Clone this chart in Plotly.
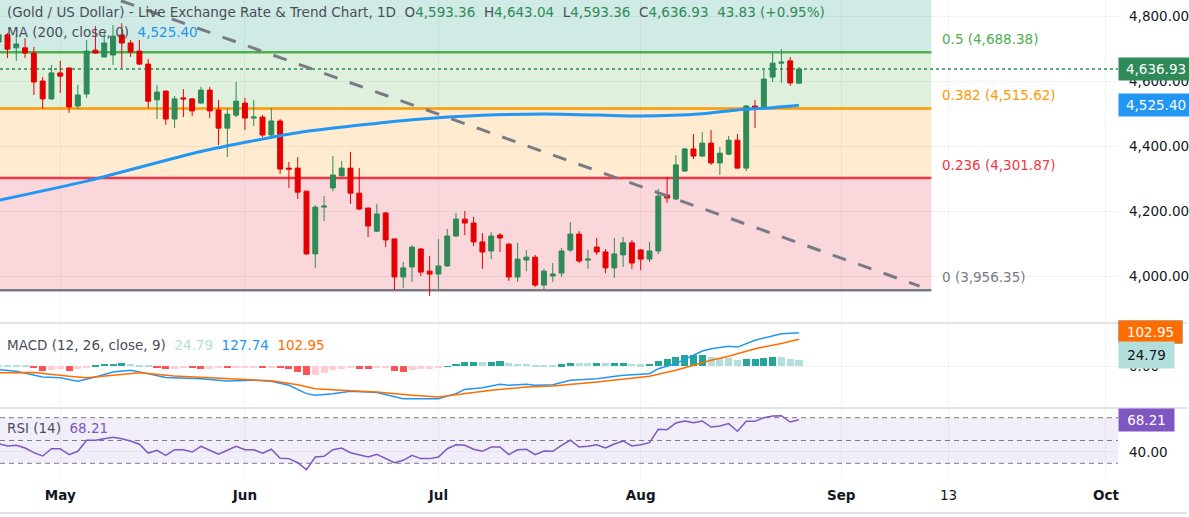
import plotly.graph_objects as go

# one bar per trading day; index 0 is the first complete candle on the left
bar_idx = list(range(-1, 91))

opens = [4720, 4742, 4702, 4702, 4686, 4600, 4545, 4625, 4640, 4523,
         4560, 4695, 4674, 4680, 4742, 4717, 4692, 4652, 4542, 4569,
         4483, 4548, 4545, 4532, 4572, 4511, 4455, 4495, 4532, 4486,
         4489, 4434, 4477, 4332, 4332, 4261, 4068, 4212, 4271, 4308,
         4332, 4255, 4209, 4138, 4194, 4114, 3997, 4028, 4083, 4015,
         4006, 4031, 4123, 4175, 4163, 4105, 4077, 4126, 4098, 3997,
         4049, 4058, 3972, 4000, 4009, 4080, 4129, 4049, 4089, 4074,
         4025, 4065, 4102, 4080, 4052, 4077, 4249, 4237, 4323, 4391,
         4369, 4409, 4348, 4375, 4418, 4332, 4523, 4517, 4612, 4655,
         4662, 4593.36]
highs = [4757, 4748, 4742, 4732, 4705, 4612, 4649, 4662, 4641, 4588,
         4726, 4769, 4748, 4772, 4778, 4726, 4726, 4668, 4588, 4570,
         4554, 4575, 4548, 4582, 4582, 4542, 4517, 4597, 4548, 4542,
         4495, 4517, 4483, 4351, 4366, 4262, 4218, 4246, 4369, 4354,
         4382, 4332, 4211, 4222, 4197, 4115, 4043, 4095, 4086, 4062,
         4114, 4145, 4194, 4200, 4182, 4132, 4135, 4132, 4102, 4102,
         4080, 4065, 4022, 4040, 4086, 4166, 4138, 4080, 4117, 4083,
         4117, 4120, 4111, 4083, 4105, 4268, 4305, 4372, 4394, 4437,
         4443, 4449, 4397, 4431, 4437, 4526, 4542, 4634, 4686, 4698,
         4674, 4643.04]
lows = [4711, 4671, 4662, 4671, 4557, 4514, 4542, 4563, 4502, 4514,
        4548, 4685, 4673, 4649, 4640, 4674, 4649, 4517, 4483, 4465,
        4455, 4489, 4492, 4531, 4486, 4403, 4366, 4489, 4449, 4462,
        4428, 4428, 4314, 4271, 4237, 4065, 4025, 4169, 4261, 4306,
        4222, 4203, 4120, 4135, 4089, 3957, 3963, 3982, 4000, 3938,
        3960, 4028, 4120, 4126, 4092, 4022, 4052, 4074, 3985, 3982,
        4015, 3966, 3957, 3982, 3997, 4074, 4040, 4022, 4065, 4009,
        3994, 4028, 4022, 4018, 4043, 4068, 4225, 4234, 4320, 4360,
        4366, 4342, 4311, 4372, 4330, 4323, 4455, 4514, 4597, 4594,
        4585, 4593.36]
closes = [4742, 4698, 4714, 4686, 4597, 4545, 4625, 4615, 4520, 4557,
          4692, 4686, 4717, 4738, 4717, 4689, 4652, 4538, 4566, 4483,
          4545, 4545, 4508, 4572, 4508, 4455, 4498, 4538, 4486, 4489,
          4434, 4477, 4329, 4329, 4258, 4068, 4212, 4215, 4311, 4332,
          4255, 4206, 4154, 4191, 4111, 3997, 4025, 4089, 4012, 4006,
          4031, 4123, 4175, 4163, 4105, 4074, 4123, 4117, 3997, 4052,
          4058, 3972, 4015, 4006, 4077, 4129, 4046, 4052, 4074, 4025,
          4068, 4102, 4040, 4052, 4077, 4246, 4240, 4342, 4391, 4369,
          4409, 4348, 4378, 4418, 4332, 4523, 4517, 4606, 4655, 4658,
          4594, 4636.93]
day_change = 43.83
day_change_pct = 0.95

# 200-day moving average, read at a few bars
ma_idx = [-1, 9, 22, 33, 46, 54, 63, 72, 79, 83, 87, 90]
ma_vals = [4233, 4292, 4383, 4441, 4481, 4495, 4498, 4492, 4499, 4511, 4518, 4525.40]

# falling trendline (two anchor points)
trend_idx = [10, 103.7]
trend_vals = [4875, 3969]

# fibonacci retracement
fib_ratios = [0, 0.236, 0.382, 0.5, 0.618]
fib_prices = [3956.35, 4301.87, 4515.62, 4688.38, 4861.10]
fib_end_idx = 105.05

# MACD (12, 26, close, 9)
macd_idx = [-1, 1, 4, 6, 8, 10, 12, 14, 16, 18, 22, 25, 28, 30, 32, 34, 35, 37, 39, 42, 45, 48,
            49, 51, 52, 54, 56, 57, 59, 60, 62, 64, 67, 70, 73, 74, 76, 79, 80, 82, 83, 85, 88, 90]
macd_vals = [-13, -19, -41, -44, -57, -41, -22, -15, -28, -43, -47, -56, -53, -57, -72, -104, -110,
             -104, -95, -100, -123, -125, -123, -104, -88, -82, -68, -72, -68, -72, -70, -53, -47,
             -34, -28, -9, 10, 58, 67, 76, 73, 99, 124, 127.74]
signal_idx = [-1, 3, 7, 9, 12, 15, 19, 26, 30, 33, 35, 38, 42, 46, 49, 51, 55, 59, 62, 67, 72, 73,
              76, 78, 80, 82, 85, 88, 90]
signal_vals = [-25, -24, -38, -44, -34, -25, -37, -50, -55, -70, -85, -91, -98, -110, -117, -108,
               -91, -79, -75, -60, -41, -38, -15, 4, 23, 38, 67, 87, 102.95]
hist_vals = [5, 4, 2.5, 1.3, -6, -18, -13, -10, -18, -10,
             -6, 2.5, 9, 10, 13, 10, 6, 2.5, -6, -10,
             -9, -6, -8, -10, -9, -6, -7, -5, -4, -3,
             -8, -6, -7, -12, -23, -35, -33, -25, -15, -10,
             -6, -9, -9.5, -8, -6, -16, -20, -13, -12, -11,
             -7, 1, 10, 16, 16.5, 15, 16.5, 19, 11, 9,
             8.5, 5, 2.5, 2.4, 7.5, 14, 12.5, 12, 12.7, 11.5,
             11.8, 12, 10, 7.5, 10, 19, 27, 35, 42, 44,
             44.5, 35, 32, 31.5, 23, 27.5, 28, 33, 35.5, 35,
             28, 24.79]

# RSI (14)
rsi_vals = [47.2, 45.2, 45.8, 43.4, 39.3, 36.4, 42.8, 42.8, 37.6, 40.5,
            50.2, 50.2, 51.6, 52.8, 51.6, 49.6, 46.7, 39.0, 41.4, 37.0,
            41.9, 41.9, 39.9, 44.9, 41.4, 37.9, 41.4, 44.9, 41.9, 41.9,
            38.8, 42.3, 34.4, 34.1, 30.5, 24.4, 35.5, 36.1, 41.9, 43.4,
            39.3, 37.6, 35.5, 37.9, 34.1, 30.5, 32.6, 37.0, 34.1, 34.1,
            35.5, 42.8, 46.3, 45.8, 42.3, 40.5, 44.3, 44.3, 37.6, 41.9,
            42.3, 37.6, 40.8, 40.5, 45.8, 50.2, 44.3, 44.9, 46.3, 43.4,
            46.9, 49.6, 45.2, 46.3, 48.1, 59.8, 59.5, 65.4, 67.1, 65.6,
            67.1, 61.8, 62.7, 64.8, 58.1, 66.8, 66.8, 70.0, 71.5, 71.8,
            66.2, 68.21]
rsi_levels = [70, 50, 30]

# time axis
tick_idx = [6, 27, 49, 72, 94.8, 107, 124.9]
tick_labels = ["May", "Jun", "Jul", "Aug", "Sep", "13", "Oct"]
price_ticks = [4000, 4200, 4400, 4600, 4800]

GREEN = "#2e8a57"
RED = "#e40000"
BLUE = "#2196f3"
ORANGE = "#ff6d00"
TEAL = "#26a69a"
TEAL_LT = "#b2dfdb"
NEG = "#ff5252"
NEG_LT = "#ffcdd2"
PURPLE = "#7e57c2"
GRAYTXT = "#4a4e59"
AXTXT = "#131722"
GRID = "rgba(42,46,57,0.06)"
FONT = "DejaVu Sans"
FS = 13.5
NB = "\u00a0"

W, HFIG = 1189, 517
PLOT_H = 478  # height of the stacked panels in px
x_range = [-0.85, 126.27]


def paper_y(px):
    return 1 - px / PLOT_H


def span(text, color):
    return f"<span style='color:{color}'>{text}</span>"


# histogram colouring, TradingView style
hist_colors = []
for k, v in enumerate(hist_vals):
    rising = k > 0 and v >= hist_vals[k - 1]
    if v >= 0:
        hist_colors.append(TEAL if rising else TEAL_LT)
    else:
        hist_colors.append(NEG_LT if rising else NEG)

fig = go.Figure()

fig.add_trace(go.Candlestick(
    x=bar_idx, open=opens, high=highs, low=lows, close=closes,
    increasing=dict(line=dict(color=GREEN, width=1), fillcolor=GREEN),
    decreasing=dict(line=dict(color=RED, width=1), fillcolor=RED),
    whiskerwidth=0, xaxis="x", yaxis="y", showlegend=False,
))
fig.add_trace(go.Scatter(
    x=ma_idx, y=ma_vals, mode="lines", line=dict(color=BLUE, width=3, shape="spline", smoothing=0.6),
    xaxis="x", yaxis="y", showlegend=False,
))
fig.add_trace(go.Scatter(
    x=trend_idx, y=trend_vals, mode="lines", line=dict(color="#787b86", width=3, dash="14px,13px"),
    xaxis="x", yaxis="y", showlegend=False,
))

fig.add_trace(go.Bar(
    x=bar_idx, y=hist_vals, marker=dict(color=hist_colors, line=dict(width=0)), width=0.8,
    xaxis="x2", yaxis="y2", showlegend=False,
))
fig.add_trace(go.Scatter(
    x=macd_idx, y=macd_vals, mode="lines", line=dict(color=BLUE, width=1.5),
    xaxis="x2", yaxis="y2", showlegend=False,
))
fig.add_trace(go.Scatter(
    x=signal_idx, y=signal_vals, mode="lines", line=dict(color=ORANGE, width=1.5),
    xaxis="x2", yaxis="y2", showlegend=False,
))

fig.add_trace(go.Scatter(
    x=bar_idx, y=rsi_vals, mode="lines", line=dict(color=PURPLE, width=1.5),
    xaxis="x3", yaxis="y3", showlegend=False,
))

shapes = []
zone_colors = ["#fad7da", "#ffebcf", "#dff0dd", "#d0ebe5"]
for k in range(len(fib_prices) - 1):
    shapes.append(dict(type="rect", xref="x", yref="y", x0=-5, x1=fib_end_idx,
                       y0=fib_prices[k], y1=fib_prices[k + 1],
                       fillcolor=zone_colors[k], line=dict(width=0), layer="below"))
line_colors = ["#787b86", "#f23645", "#ff9800", "#4caf50", "#009688"]
for k, p in enumerate(fib_prices):
    shapes.append(dict(type="line", xref="x", yref="y", x0=-5, x1=fib_end_idx, y0=p, y1=p,
                       line=dict(color=line_colors[k], width=2.5), layer="between"))
# last-price line across the whole pane
shapes.append(dict(type="line", xref="x", yref="y", x0=x_range[0], x1=x_range[1],
                   y0=closes[-1], y1=closes[-1],
                   line=dict(color=GREEN, width=1.3, dash="dot"), layer="between"))
shapes.append(dict(type="rect", xref="x3", yref="y3", x0=x_range[0], x1=x_range[1],
                   y0=rsi_levels[2], y1=rsi_levels[0],
                   fillcolor="rgba(126,87,194,0.1)", line=dict(width=0), layer="below"))
for lv in rsi_levels:
    shapes.append(dict(type="line", xref="x3", yref="y3", x0=x_range[0], x1=x_range[1], y0=lv, y1=lv,
                       line=dict(color="#787b86", width=1, dash="5px,4px"), layer="between"))
for py in (323, 408, 513):
    shapes.append(dict(type="line", xref="paper", yref="paper", x0=0, x1=W / 1120,
                       y0=paper_y(py), y1=paper_y(py), line=dict(color="#e0e3eb", width=2)))

annotations = []
head = ("(Gold / US Dollar) - Live Exchange Rate &amp; Trend Chart, 1D" + NB * 2
        + "O" + span(f"{opens[-1]:,.2f}", GREEN) + NB * 2
        + "H" + span(f"{highs[-1]:,.2f}", GREEN) + NB * 2
        + "L" + span(f"{lows[-1]:,.2f}", GREEN) + NB * 2
        + "C" + span(f"{closes[-1]:,.2f}", GREEN) + NB * 2
        + span(f"{day_change:.2f} (+{day_change_pct:.2f}%)", GREEN))
legend_rows = [
    (head, 12),
    ("MA (200, close, 0)" + NB * 2 + span(f"{ma_vals[-1]:,.2f}", BLUE), 32),
    ("MACD (12, 26, close, 9)" + NB * 2 + span(f"{hist_vals[-1]:.2f}", TEAL_LT)
     + NB * 2 + span(f"{macd_vals[-1]:.2f}", BLUE) + NB * 2
     + span(f"{signal_vals[-1]:.2f}", ORANGE), 345),
    ("RSI (14)" + NB * 2 + span(f"{rsi_vals[-1]:.2f}", PURPLE), 428),
]
for txt, py in legend_rows:
    annotations.append(dict(text=txt, xref="paper", yref="paper", x=0, y=paper_y(py), xshift=5,
                            xanchor="left", yanchor="middle", showarrow=False,
                            font=dict(size=FS, color=GRAYTXT)))

for k in range(4):
    annotations.append(dict(text=f"{fib_ratios[k]:g} ({fib_prices[k]:,.2f})", xref="x", yref="y",
                            x=fib_end_idx, y=fib_prices[k], xshift=9, yshift=3,
                            xanchor="left", yanchor="bottom", showarrow=False,
                            font=dict(size=FS, color=line_colors[k])))

# price-scale labels
boxes = [
    ("y", closes[-1], f"{closes[-1]:,.2f}", GREEN, "white", 70, 0, 18),
    ("y", ma_vals[-1], f"{ma_vals[-1]:,.2f}", BLUE, "white", 70, 0, 18),
    ("y2", macd_vals[-1], f"{macd_vals[-1]:.2f}", BLUE, "white", 59, 1, 18),
    ("y2", signal_vals[-1], f"{signal_vals[-1]:.2f}", ORANGE, "white", 59, 7, 18),
    ("y2", hist_vals[-1], f"{hist_vals[-1]:.2f}", TEAL_LT, AXTXT, 51, 5, 22),
    ("y3", rsi_vals[-1], f"{rsi_vals[-1]:.2f}", PURPLE, "white", 51, 0, 18),
]
for yref, val, txt, bg, fg, wd, shift, ht in boxes:
    annotations.append(dict(text=txt, xref="paper", yref=yref, x=1, y=val, yshift=shift,
                            xanchor="left", yanchor="middle", showarrow=False, bgcolor=bg,
                            width=wd, height=ht, borderpad=2, align="center",
                            font=dict(size=FS, color=fg)))

xcommon = dict(range=x_range, showgrid=True, gridcolor=GRID, gridwidth=1, tickvals=tick_idx,
               zeroline=False, showline=False, ticks="")
ycommon = dict(side="right", showgrid=True, gridcolor=GRID, zeroline=False, showline=False,
               ticks="", ticklabelstandoff=10, tickfont=dict(size=FS, color=AXTXT))

fig.update_layout(
    width=W, height=HFIG,
    margin=dict(l=0, r=W - 1120, t=0, b=HFIG - PLOT_H),
    paper_bgcolor="white", plot_bgcolor="white",
    font=dict(family=FONT, size=FS, color=AXTXT),
    showlegend=False, bargap=0, boxgap=0.2,
    xaxis=dict(**xcommon, anchor="y", showticklabels=False, rangeslider=dict(visible=False)),
    xaxis2=dict(**xcommon, anchor="y2", matches="x", showticklabels=False),
    xaxis3=dict(**xcommon, anchor="y3", matches="x", showticklabels=True,
                ticktext=[t if t.isdigit() else f"<b>{t}</b>" for t in tick_labels],
                ticklabelstandoff=7, tickfont=dict(size=FS, color=AXTXT)),
    yaxis=dict(**ycommon, domain=[paper_y(323), 1], range=[3855.4, 4849.3],
               tickvals=price_ticks, tickformat=",.2f"),
    yaxis2=dict(**ycommon, domain=[paper_y(408), paper_y(324)], range=[-158.6, 160.8],
                tickvals=[0], tickformat=".2f"),
    yaxis3=dict(**ycommon, domain=[0, paper_y(408)], range=[17.1, 78.5],
                tickvals=[40], tickformat=".2f"),
    shapes=shapes,
    annotations=annotations,
)

fig.write_html("out.html", config={"displayModeBar": False},
               post_script="document.body.style.margin='0';document.body.style.overflow='hidden';")
